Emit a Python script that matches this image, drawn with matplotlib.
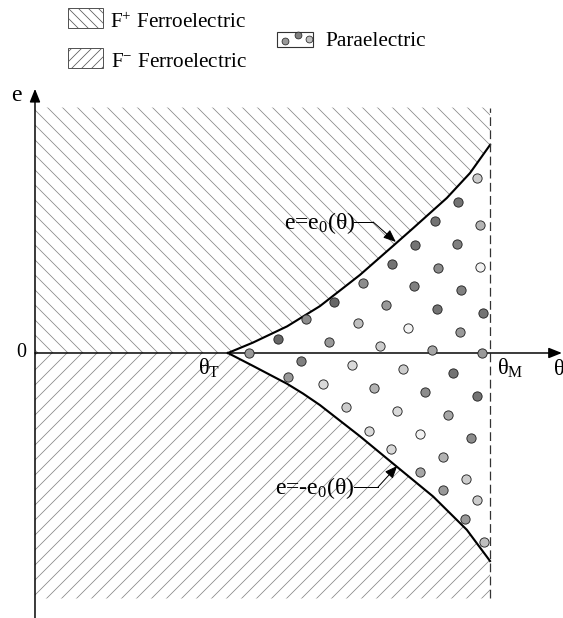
import numpy as np
import matplotlib.pyplot as plt
from matplotlib.lines import Line2D
from matplotlib.patches import Polygon, Rectangle

plt.rcParams.update({
    "font.family": "serif",
    "font.serif": ["Liberation Serif", "DejaVu Serif"],
    "mathtext.fontset": "custom",
    "mathtext.rm": "Liberation Serif",
    "mathtext.it": "Liberation Serif:italic",
    "hatch.linewidth": 0.6,
})

DPI = 90
W, H = 563, 618
HATCH_GREY = "#858585"

# theta is scaled so that theta_M = 1, e so that e0(theta_M) = 1
theta_T = 0.424
theta_M = 1.0
e_extent = 1.18        # top/bottom of the shaded phase regions

# e = e0(theta) boundary (upper) and e = -e0(theta) boundary (lower)
upper_theta = [0.424, 0.479, 0.554, 0.626, 0.714, 0.787, 0.831, 0.905, 0.956, 1.0]
upper_e = [0.0, 0.050, 0.128, 0.225, 0.375, 0.515, 0.600, 0.745, 0.865, 1.0]
lower_theta = [0.424, 0.479, 0.554, 0.589, 0.626, 0.714, 0.796, 0.875, 0.949, 1.0]
lower_e = [0.0, -0.062, -0.148, -0.195, -0.250, -0.40, -0.548, -0.69, -0.85, -1.0]

# paraelectric dots: position and grey level of the fill
para_theta = [0.971, 0.930, 0.978, 0.878, 0.835, 0.927, 0.784, 0.885, 0.978,
              0.720, 0.834, 0.936, 0.658, 0.771, 0.883, 0.985, 0.596, 0.709,
              0.820, 0.934, 0.534, 0.647, 0.758, 0.872, 0.983, 0.471,
              0.585, 0.696, 0.808, 0.919, 0.555, 0.634, 0.746, 0.857, 0.971,
              0.684, 0.795, 0.908, 0.733, 0.846, 0.958, 0.782, 0.896, 0.846,
              0.947, 0.897, 0.971, 0.944, 0.987]
para_e = [0.840, 0.727, 0.615, 0.636, 0.519, 0.523, 0.428, 0.410, 0.415,
          0.337, 0.322, 0.303, 0.247, 0.231, 0.211, 0.194, 0.163, 0.143,
          0.122, 0.102, 0.067, 0.051, 0.034, 0.014, 0.0, 0.0,
          -0.038, -0.058, -0.078, -0.098, -0.114, -0.149, -0.167, -0.189, -0.207,
          -0.258, -0.277, -0.298, -0.374, -0.391, -0.410, -0.462, -0.501, -0.571,
          -0.607, -0.659, -0.707, -0.798, -0.910]
para_shade = [0.80, 0.45, 0.70, 0.45, 0.45, 0.50, 0.45, 0.55, 0.95,
              0.55, 0.50, 0.50, 0.40, 0.60, 0.45, 0.45, 0.55, 0.75,
              0.95, 0.60, 0.40, 0.60, 0.80, 0.65, 0.60, 0.60,
              0.50, 0.85, 0.80, 0.45, 0.60, 0.85, 0.70, 0.55, 0.45,
              0.80, 0.85, 0.65, 0.85, 0.95, 0.55, 0.85, 0.70, 0.65,
              0.80, 0.60, 0.80, 0.60, 0.75]


def fig_xy(x, y):
    """Pixel position (origin top-left) to figure fraction."""
    return x / W, 1 - y / H


fig = plt.figure(figsize=(W / DPI, H / DPI), dpi=DPI)
ax = fig.add_axes([0, 0, 1, 1])
ax.set_xlim(-0.0769, 1.1604)
ax.set_ylim(-1.274, 1.697)
ax.axis("off")

# F+ region above e0(theta), F- region below -e0(theta)
up_poly = ([(0, 0)] + list(zip(upper_theta, upper_e))
           + [(theta_M, e_extent), (0, e_extent)])
low_poly = ([(0, 0)] + list(zip(lower_theta, lower_e))
            + [(theta_M, -e_extent), (0, -e_extent)])
ax.add_patch(Polygon(up_poly, closed=True, facecolor="white",
                     edgecolor=HATCH_GREY, hatch="\\\\", linewidth=0))
ax.add_patch(Polygon(low_poly, closed=True, facecolor="white",
                     edgecolor=HATCH_GREY, hatch="//", linewidth=0))

# phase boundaries
ax.plot(upper_theta, upper_e, color="black", lw=1.7, solid_joinstyle="round")
ax.plot(lower_theta, lower_e, color="black", lw=1.7, solid_joinstyle="round")
ax.plot([theta_M, theta_M], [-e_extent, e_extent], color="#333333",
        lw=1.0, dashes=(7, 3.5))

# paraelectric dots
for t, e, g in zip(para_theta, para_e, para_shade):
    ax.plot(t, e, "o", ms=7.4, mfc=str(g), mec="#222222", mew=0.7, zorder=4)

# coordinate axes
arrow = dict(arrowstyle="-|>,head_length=0.55,head_width=0.22",
             color="black", lw=1.2, shrinkA=0, shrinkB=0, mutation_scale=16)
ax.annotate("", xy=(0, 1.27), xytext=(0, -1.274), arrowprops=arrow, zorder=5)
ax.annotate("", xy=(1.158, 0), xytext=(0, 0), arrowprops=arrow, zorder=3)

ax.text(-0.040, 1.24, "e", fontsize=19, ha="center", va="center")
ax.text(-0.030, 0.0, "0", fontsize=16, ha="center", va="center")
ax.text(0.358, -0.106, r"θ$_\mathrm{T}$", fontsize=18, va="baseline")
ax.text(1.015, -0.106, r"θ$_\mathrm{M}$", fontsize=18, va="baseline")
ax.text(1.140, -0.106, "θ", fontsize=18, va="baseline")

# boundary labels with leader arrows
lead = dict(arrowstyle="-|>,head_length=0.6,head_width=0.25",
            color="black", lw=0.8, shrinkA=0, shrinkB=0, mutation_scale=14)
ax.text(0.547, 0.596, r"e=e$_0$(θ)", fontsize=19, va="baseline")
ax.plot([0.701, 0.743], [0.630, 0.630], color="black", lw=0.8)
ax.annotate("", xy=(0.793, 0.534), xytext=(0.743, 0.630), arrowprops=lead)
ax.text(0.527, -0.678, r"e=-e$_0$(θ)", fontsize=19, va="baseline")
ax.plot([0.700, 0.754], [-0.644, -0.644], color="black", lw=0.8)
ax.annotate("", xy=(0.796, -0.543), xytext=(0.754, -0.644), arrowprops=lead)

# legend swatches
for y_top, hatch in [(8, "\\\\\\"), (48, "///")]:
    fig.add_artist(Rectangle(fig_xy(68, y_top + 20), 35 / W, 20 / H,
                             transform=fig.transFigure, facecolor="white",
                             edgecolor="#555555", hatch=hatch, lw=0.8))
fig.text(*fig_xy(110, 28), r"F$^{+}$ Ferroelectric", fontsize=17, va="baseline")
fig.text(*fig_xy(111, 67), r"F$^{-}$ Ferroelectric", fontsize=17, va="baseline")

fig.add_artist(Rectangle(fig_xy(277, 47), 36 / W, 15 / H,
                         transform=fig.transFigure, facecolor="white",
                         edgecolor="#333333", lw=0.9))
for (cx, cy), g in zip([(285, 41), (298, 35), (309, 39)], [0.6, 0.5, 0.75]):
    fig.add_artist(Line2D(*[[v] for v in fig_xy(cx, cy)], marker="o", ms=5.5,
                          mfc=str(g), mec="#222222", mew=0.6, linestyle="none",
                          transform=fig.transFigure))
fig.text(*fig_xy(325, 46), "Paraelectric", fontsize=17, va="baseline")

fig.savefig("out.png", dpi=DPI)
